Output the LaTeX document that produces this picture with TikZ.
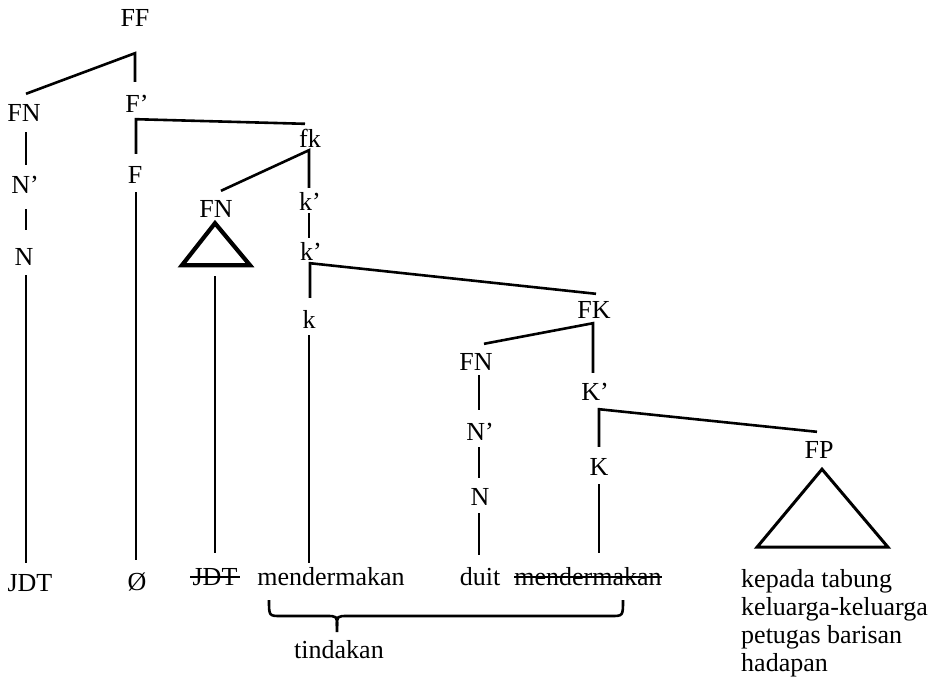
\documentclass[tikz,border=0pt]{standalone}
\usepackage{fontspec}
\setmainfont{Liberation Serif}
\usetikzlibrary{calc}
\tikzset{
  lbl/.style={anchor=base, inner sep=0pt, text height=17pt, text depth=0pt, font=\fontsize{26}{28}\selectfont},
  br/.style={line width=2.6pt, line join=miter},
  tri/.style={line width=3pt, line join=miter},
  trithick/.style={line width=4.2pt, line join=miter},
  strike/.style={line width=1.8pt},
  brace/.style={line width=2.6pt, line join=round}
}
\begin{document}
\begin{tikzpicture}[x=1pt,y=-1pt]
\useasboundingbox (0,0) rectangle (944,686);
% nodes
\node[lbl] (FF) at (135,26) {FF};
\node[lbl] (FNa) at (24,121) {FN};
\node[lbl] (Fp) at (137,112) {F’};
\node[lbl] (Npa) at (25,193) {N’};
\node[lbl] (Na) at (24,265) {N};
\node[lbl] (JDTa) at (30,591) {JDT};
\node[lbl] (F) at (135,183) {F};
\node[lbl] (O) at (137,590) {Ø};
\node[lbl] (fk) at (310,147) {fk};
\node[lbl] (FNb) at (216,217) {FN};
\node[lbl] (JDTb) at (215,585) {JDT};
\node[lbl] (kp1) at (310,210) {k’};
\node[lbl] (kp2) at (311,260) {k’};
\node[lbl] (k) at (309,328) {k};
\node[lbl] (mendA) at (331,585) {mendermakan};
\node[lbl] (FK) at (594,318) {FK};
\node[lbl] (FNc) at (476,370) {FN};
\node[lbl] (Npc) at (480,440) {N’};
\node[lbl] (Nc) at (480,505) {N};
\node[lbl] (duit) at (480,585) {duit};
\node[lbl] (Kp) at (595,400) {K’};
\node[lbl] (K) at (599,475) {K};
\node[lbl] (mendB) at (588,585) {mendermakan};
\node[lbl] (FP) at (819,458) {FP};
\node[lbl] (tind) at (339,658) {tindakan};
\node[anchor=north west, align=left, inner sep=0pt, font=\fontsize{26}{28}\selectfont] (FPtext) at (741,569) {kepada tabung\\keluarga-keluarga\\petugas barisan\\hadapan};
% junctions
\coordinate (jFF) at ($(FF.south)+(0,27)$);
\coordinate (jFp) at ($(Fp.south)+(-1,7)$);
\coordinate (jfk) at ($(fk.south)+(-1,3)$);
\coordinate (jkp) at ($(kp2.south)+(-1,3)$);
\coordinate (jFK) at ($(FK.south)+(-1,5)$);
\coordinate (jKp) at ($(Kp.south)+(4,9)$);
% branches
\draw[br] ($(FNa.north)+(2,-10)$) -- (jFF) -- ($(jFF |- Fp.north)+(0,-13)$);
\draw[br] ($(FNa.south)+(2,11)$) -- ($(FNa.south |- Npa.north)+(2,-11)$);
\draw[br] ($(Npa.south)+(1,16)$) -- ($(Npa.south |- Na.north)+(1,-18)$);
\draw[br] ($(Na.south)+(2,10)$) -- ($(Na.south |- JDTa.north)+(2,-11)$);
\draw[br] ($(fk.north)+(-5,-6)$) -- (jFp) -- ($(jFp |- F.north)+(0,-12)$);
\draw[br] ($(F.south)+(1,9)$) -- ($(F.south |- O.north)+(1,-13)$);
\draw[br] ($(FNb.north)+(5,-9)$) -- (jfk) -- ($(jfk |- kp1.north)+(0,-5)$);
\draw[br] ($(kp1.south)+(-1,3)$) -- ($(kp1.south |- kp2.north)+(-1,-5)$);
\draw[br] ($(FK.north)+(2,-7)$) -- (jkp) -- ($(jkp |- k.north)+(0,-13)$);
\draw[br] ($(k.south)+(0,7)$) -- ($(k.south |- mendA.north)+(0,-5)$);
\draw[br] ($(FNc.north)+(8,-9)$) -- (jFK) -- ($(jFK |- Kp.north)+(0,-10)$);
\draw[br] ($(FNc.south)+(3,5)$) -- ($(FNc.south |- Npc.north)+(3,-13)$);
\draw[br] ($(Npc.south)+(-1,7)$) -- ($(Npc.south |- Nc.north)+(-1,-10)$);
\draw[br] ($(Nc.south)+(-1,8)$) -- ($(Nc.south |- duit.north)+(-1,-13)$);
\draw[br] ($(FP.north)+(-2,-9)$) -- (jKp) -- ($(jKp |- K.north)+(0,-11)$);
\draw[br] ($(K.south)+(0,9)$) -- ($(K.south |- mendB.north)+(0,-15)$);
% triangles
\coordinate (triB) at ($(FNb.south)+(-1,6)$);
\draw[trithick] (triB) -- ++(-33,42) -- ++(68,0) -- cycle;
\draw[br] ($(triB)+(0,53)$) -- ($(triB |- JDTb.north)+(0,-15)$);
\coordinate (triP) at ($(FP.south)+(3,11)$);
\draw[tri] (triP) -- ++(-65,78) -- ++(131,0) -- cycle;
% strikes
\draw[strike] ($(JDTb.base west)+(-2,-8)$) -- ($(JDTb.base east)+(2,-8)$);
\draw[strike] ($(mendB.base west)+(0,-8)$) -- ($(mendB.base east)+(0,-8)$);
% brace
\draw[brace] (269,600) .. controls (269,616) .. (281,616) -- (326,616) .. controls (337,616) .. (337,626) -- (337,632);
\draw[brace] (337,626) .. controls (337,616) .. (348,616) -- (611,616) .. controls (623,616) .. (623,600);
\end{tikzpicture}
\end{document}
